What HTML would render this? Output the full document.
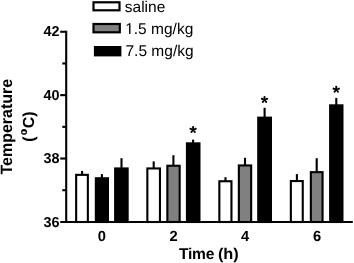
<!DOCTYPE html>
<html><head><meta charset="utf-8"><style>
html,body{margin:0;padding:0;background:#fff;}
svg{display:block;text-rendering:geometricPrecision;filter:grayscale(1);font-family:"Liberation Sans",sans-serif;}
</style></head><body>
<svg width="354" height="263" viewBox="0 0 354 263">
<line x1="82.10" y1="170.90" x2="82.10" y2="174.80" stroke="#000" stroke-width="2.1"/>
<rect x="76.15" y="174.85" width="11.70" height="47.15" fill="#fff" stroke="#000" stroke-width="2.1"/>
<line x1="101.90" y1="174.10" x2="101.90" y2="178.20" stroke="#000" stroke-width="2.1"/>
<rect x="95.85" y="178.25" width="12.10" height="43.75" fill="#000" stroke="#000" stroke-width="2.1"/>
<line x1="121.50" y1="158.20" x2="121.50" y2="168.40" stroke="#000" stroke-width="2.1"/>
<rect x="115.15" y="168.45" width="12.50" height="53.55" fill="#000" stroke="#000" stroke-width="2.1"/>
<line x1="153.70" y1="161.40" x2="153.70" y2="168.40" stroke="#000" stroke-width="2.1"/>
<rect x="147.35" y="168.45" width="12.60" height="53.55" fill="#fff" stroke="#000" stroke-width="2.1"/>
<line x1="173.40" y1="155.20" x2="173.40" y2="165.70" stroke="#000" stroke-width="2.1"/>
<rect x="167.35" y="165.75" width="12.30" height="56.25" fill="#808080" stroke="#000" stroke-width="2.1"/>
<line x1="193.10" y1="139.60" x2="193.10" y2="143.30" stroke="#000" stroke-width="2.1"/>
<rect x="186.95" y="143.35" width="12.50" height="78.65" fill="#000" stroke="#000" stroke-width="2.1"/>
<line x1="225.50" y1="177.20" x2="225.50" y2="181.20" stroke="#000" stroke-width="2.1"/>
<rect x="219.35" y="181.25" width="12.10" height="40.75" fill="#fff" stroke="#000" stroke-width="2.1"/>
<line x1="245.00" y1="157.80" x2="245.00" y2="165.40" stroke="#000" stroke-width="2.1"/>
<rect x="238.85" y="165.45" width="12.30" height="56.55" fill="#808080" stroke="#000" stroke-width="2.1"/>
<line x1="264.60" y1="107.80" x2="264.60" y2="117.60" stroke="#000" stroke-width="2.1"/>
<rect x="258.25" y="117.65" width="12.70" height="104.35" fill="#000" stroke="#000" stroke-width="2.1"/>
<line x1="296.90" y1="174.10" x2="296.90" y2="181.00" stroke="#000" stroke-width="2.1"/>
<rect x="290.85" y="181.05" width="11.90" height="40.95" fill="#fff" stroke="#000" stroke-width="2.1"/>
<line x1="316.70" y1="158.20" x2="316.70" y2="172.10" stroke="#000" stroke-width="2.1"/>
<rect x="310.85" y="172.15" width="11.70" height="49.85" fill="#808080" stroke="#000" stroke-width="2.1"/>
<line x1="336.30" y1="97.90" x2="336.30" y2="105.30" stroke="#000" stroke-width="2.1"/>
<rect x="330.15" y="105.35" width="12.30" height="116.65" fill="#000" stroke="#000" stroke-width="2.1"/>
<path d="M193.65 129.70L194.15 126.95A1.05 1.05 0 0 0 192.05 126.95L192.55 129.70ZM193.27 130.22L196.04 129.85A1.05 1.05 0 0 0 195.39 127.85L192.93 129.18ZM192.66 130.02L193.87 132.54A1.05 1.05 0 0 0 195.57 131.31L193.54 129.38ZM192.66 129.38L190.63 131.31A1.05 1.05 0 0 0 192.33 132.54L193.54 130.02ZM193.27 129.18L190.81 127.85A1.05 1.05 0 0 0 190.16 129.85L192.93 130.22Z" fill="#000"/>
<circle cx="193.10" cy="129.70" r="1.0" fill="#000"/>
<path d="M265.05 99.70L265.55 96.95A1.05 1.05 0 0 0 263.45 96.95L263.95 99.70ZM264.67 100.22L267.44 99.85A1.05 1.05 0 0 0 266.79 97.85L264.33 99.18ZM264.06 100.02L265.27 102.54A1.05 1.05 0 0 0 266.97 101.31L264.94 99.38ZM264.06 99.38L262.03 101.31A1.05 1.05 0 0 0 263.73 102.54L264.94 100.02ZM264.67 99.18L262.21 97.85A1.05 1.05 0 0 0 261.56 99.85L264.33 100.22Z" fill="#000"/>
<circle cx="264.50" cy="99.70" r="1.0" fill="#000"/>
<path d="M336.80 89.50L337.30 86.75A1.05 1.05 0 0 0 335.20 86.75L335.70 89.50ZM336.42 90.02L339.19 89.65A1.05 1.05 0 0 0 338.54 87.65L336.08 88.98ZM335.81 89.82L337.02 92.34A1.05 1.05 0 0 0 338.72 91.11L336.69 89.18ZM335.81 89.18L333.78 91.11A1.05 1.05 0 0 0 335.48 92.34L336.69 89.82ZM336.42 88.98L333.96 87.65A1.05 1.05 0 0 0 333.31 89.65L336.08 90.02Z" fill="#000"/>
<circle cx="336.25" cy="89.50" r="1.0" fill="#000"/>
<line x1="66.2" y1="30.76" x2="66.2" y2="223.00" stroke="#000" stroke-width="2.1"/>
<line x1="60.2" y1="222.0" x2="352.8" y2="222.0" stroke="#000" stroke-width="2.1"/>
<line x1="60.2" y1="31.76" x2="66.2" y2="31.76" stroke="#000" stroke-width="2.1"/>
<line x1="60.2" y1="95.14" x2="66.2" y2="95.14" stroke="#000" stroke-width="2.1"/>
<line x1="60.2" y1="158.52" x2="66.2" y2="158.52" stroke="#000" stroke-width="2.1"/>
<text x="59.6" y="36.36" text-anchor="end" font-size="14.4" font-weight="bold">42</text>
<text x="59.6" y="99.74" text-anchor="end" font-size="14.4" font-weight="bold">40</text>
<text x="59.6" y="163.12" text-anchor="end" font-size="14.4" font-weight="bold">38</text>
<text x="59.6" y="226.50" text-anchor="end" font-size="14.4" font-weight="bold">36</text>
<line x1="62.3" y1="63.45" x2="66.2" y2="63.45" stroke="#000" stroke-width="2.1"/>
<line x1="62.3" y1="126.83" x2="66.2" y2="126.83" stroke="#000" stroke-width="2.1"/>
<line x1="62.3" y1="190.21" x2="66.2" y2="190.21" stroke="#000" stroke-width="2.1"/>
<text x="101.90" y="241.3" text-anchor="middle" font-size="14.7" font-weight="bold">0</text>
<text x="173.60" y="241.3" text-anchor="middle" font-size="14.7" font-weight="bold">2</text>
<text x="245.10" y="241.3" text-anchor="middle" font-size="14.7" font-weight="bold">4</text>
<text x="317.10" y="241.3" text-anchor="middle" font-size="14.7" font-weight="bold">6</text>
<text x="179.0" y="258.9" font-size="15.6" font-weight="bold" letter-spacing="-0.25">Time</text>
<text transform="translate(217.9,258.9) scale(1.05,1)" font-size="15.6" font-weight="bold">(h)</text>
<text transform="translate(11.7,126.7) rotate(-90) scale(0.975,1)" text-anchor="middle" font-size="16.4" font-weight="bold">Temperature</text>
<g transform="translate(34.2,125.6) rotate(-90)" font-size="16" font-weight="bold"><text x="-16.2" y="0">(</text><text x="-2.7" y="0">C)</text></g>
<path fill-rule="evenodd" d="M21.1 131.9a2.95 2.8 0 1 0 5.9 0a2.95 2.8 0 1 0 -5.9 0ZM22.15 132.3a1.85 1.15 0 1 0 3.7 0a1.85 1.15 0 1 0 -3.7 0Z" fill="#000"/>
<rect x="93.50" y="2.30" width="26.00" height="8.00" fill="#fff" stroke="#000" stroke-width="2.2"/>
<text x="124.80" y="11.60" font-size="15.5">saline</text>
<rect x="93.50" y="24.00" width="26.30" height="8.30" fill="#808080" stroke="#000" stroke-width="2.2"/>
<path transform="translate(125.20,33.90) scale(0.007568,-0.007568)" d="M515 0L515 1237L197 1010L197 1180L530 1409L696 1409L696 0Z" fill="#000"/>
<text x="133.82" y="33.90" font-size="15.5">.5 mg/kg</text>
<rect x="95.00" y="47.10" width="25.30" height="8.20" fill="#000" stroke="#000" stroke-width="2.2"/>
<text x="125.50" y="56.30" font-size="15.5">7.5 mg/kg</text>
</svg>
</body></html>
